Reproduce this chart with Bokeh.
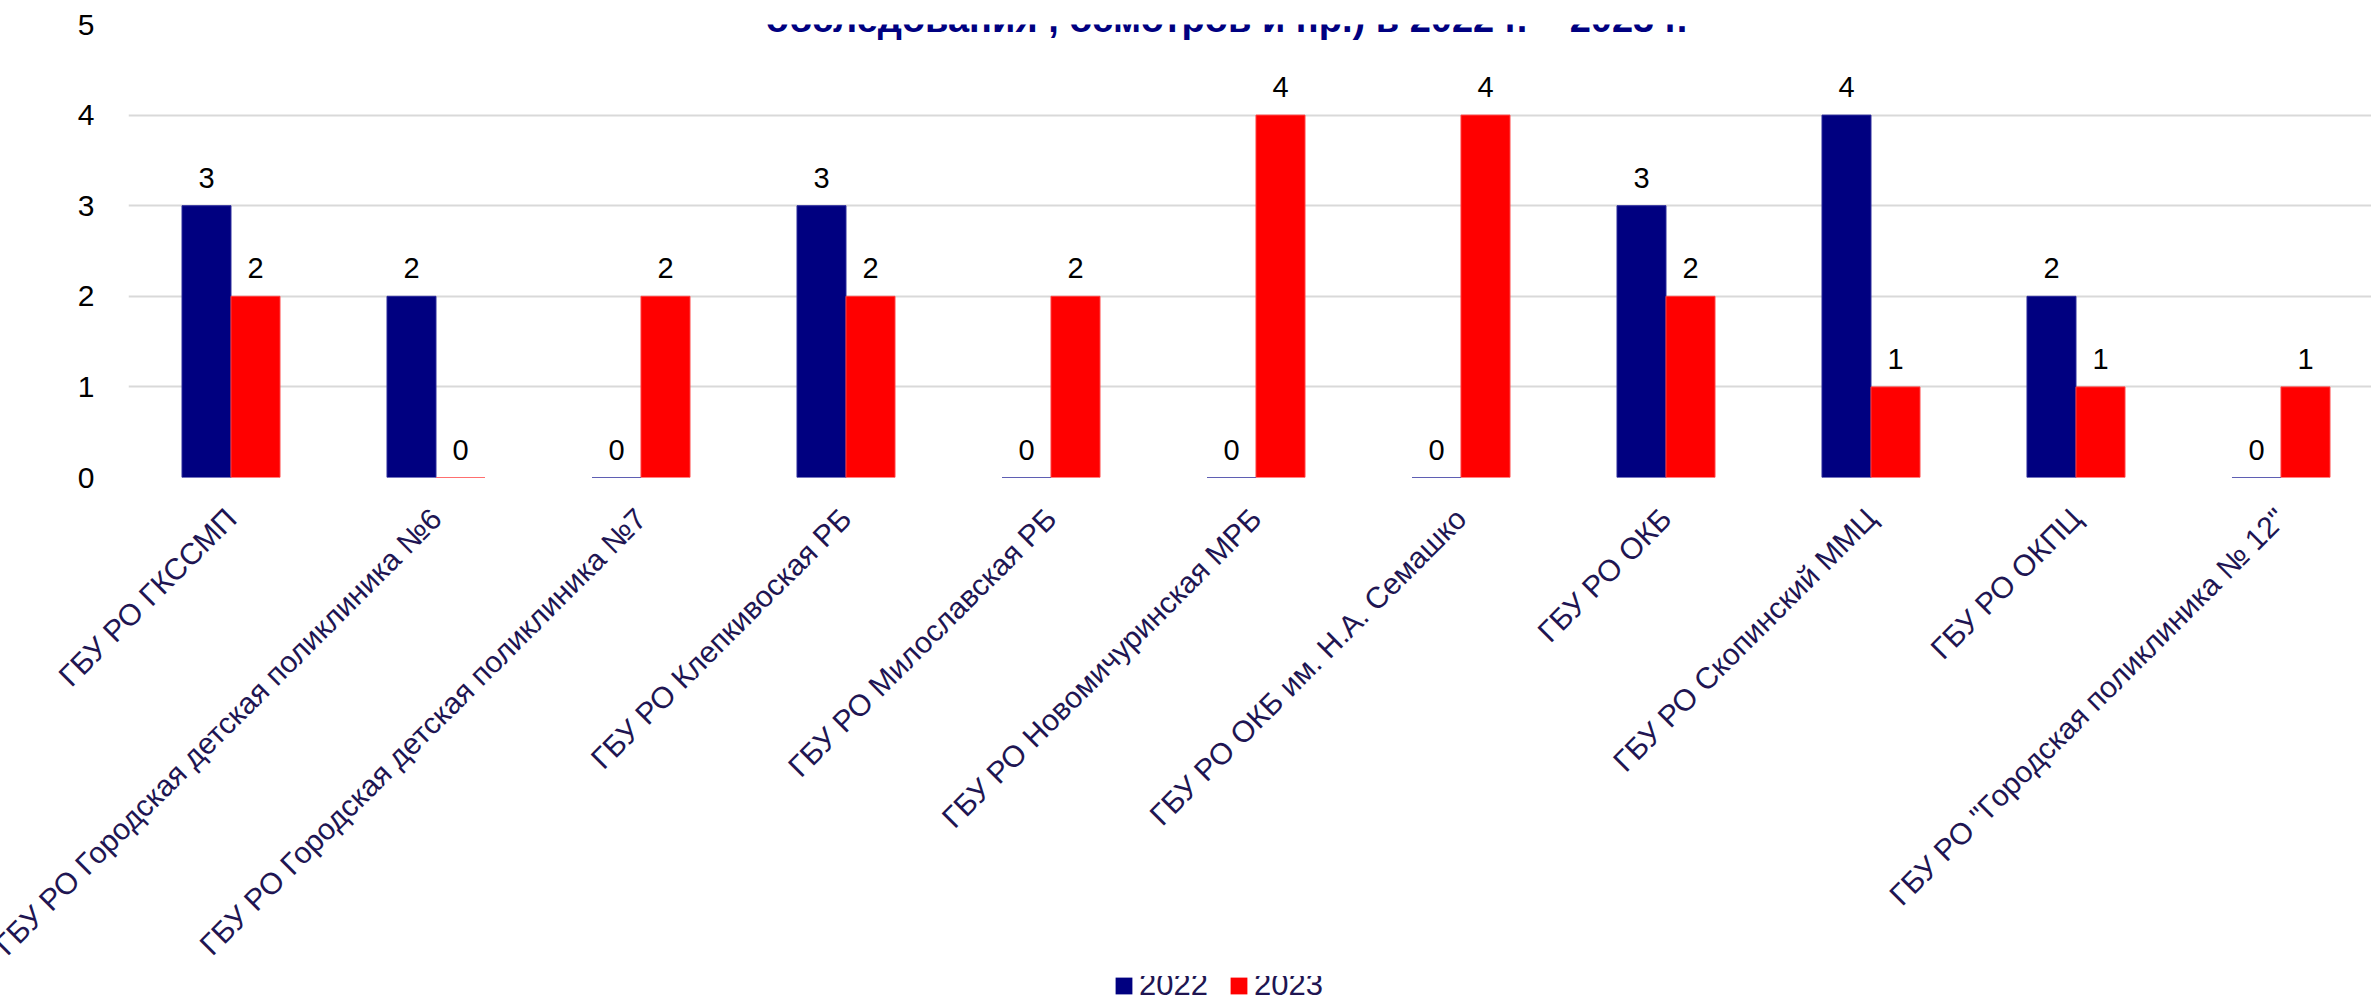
import math
from bokeh.plotting import figure
from bokeh.layouts import column
from bokeh.models import (Range1d, FixedTicker, ColumnDataSource, Legend, LegendItem, Label)
from bokeh.core.properties import value
from bokeh.transform import dodge
from bokeh.embed import file_html
from bokeh.resources import INLINE

categories = [
    "ГБУ РО ГКССМП",
    "ГБУ РО Городская детская поликлиника №6",
    "ГБУ РО Городская детская поликлиника №7",
    "ГБУ РО Клепкивоская РБ",
    "ГБУ РО Милославская РБ",
    "ГБУ РО Новомичуринская МРБ",
    "ГБУ РО ОКБ им. Н.А. Семашко",
    "ГБУ РО ОКБ",
    "ГБУ РО Скопинский ММЦ",
    "ГБУ РО ОКПЦ",
    "ГБУ РО \"Городская поликлиника № 12\"",
]
values_2022 = [3, 2, 0, 3, 0, 0, 0, 3, 4, 2, 0]
values_2023 = [2, 0, 2, 2, 2, 4, 4, 2, 1, 1, 1]
series_names = ["2022", "2023"]
y_ticks = [0, 1, 2, 3, 4, 5]
title_text = "обследования , осмотров и пр.) в 2022 г. – 2023 г."

FONT = "Liberation Sans"
NAVY = "#000080"
RED = "#FF0000"
LABEL_COLOR = "#201552"

n = len(categories)
xs = list(range(n))
src = ColumnDataSource(dict(
    x=xs,
    v22=values_2022,
    v23=values_2023,
    t22=[str(v) for v in values_2022],
    t23=[str(v) for v in values_2023],
))

W = 2371
H_MAIN = 976
H_LEG = 1001 - H_MAIN

p = figure(
    width=W, height=H_MAIN,
    x_range=Range1d(-0.5, n - 0.5 - 0.0585),
    y_range=Range1d(0, 5),
    output_backend="svg", toolbar_location=None,
    min_border_left=128, min_border_right=0,
    min_border_top=24, min_border_bottom=H_MAIN - 477,
)
p.outline_line_color = None
p.background_fill_color = "white"
p.border_fill_color = "white"

bw = 0.239
off = bw / 2
r1 = p.vbar(x=dodge("x", -off, range=p.x_range), top="v22", width=bw, source=src,
            fill_color=NAVY, line_color="#2a2a9a", line_width=1)
r2 = p.vbar(x=dodge("x", off, range=p.x_range), top="v23", width=bw, source=src,
            fill_color=RED, line_color="#ff4040", line_width=1)

for col, txt, sgn in (("v22", "t22", -1), ("v23", "t23", 1)):
    p.text(x=dodge("x", sgn * off, range=p.x_range), y=col, text=txt, source=src,
           text_align="center", text_baseline="alphabetic", y_offset=-28,
           text_font=value(FONT), text_font_size="29px", text_color="black")

# axes
p.xaxis.ticker = FixedTicker(ticks=xs)
p.xaxis.major_label_overrides = {i: c for i, c in enumerate(categories)}
p.xaxis.major_label_orientation = math.pi / 4
p.xaxis.major_label_text_font = FONT
p.xaxis.major_label_text_font_size = "30px"
p.xaxis.major_label_text_color = LABEL_COLOR
p.xaxis.major_label_standoff = 30
p.xaxis.axis_line_color = None
p.xaxis.major_tick_line_color = None
p.xaxis.minor_tick_line_color = None

p.yaxis.ticker = FixedTicker(ticks=y_ticks)
p.yaxis.major_label_text_font = FONT
p.yaxis.major_label_text_font_size = "30px"
p.yaxis.major_label_text_color = "black"
p.yaxis.major_label_standoff = 28
p.yaxis.axis_line_color = None
p.yaxis.major_tick_line_color = None
p.yaxis.minor_tick_line_color = None

p.xgrid.grid_line_color = None
p.ygrid.grid_line_color = "#D9D9D9"
p.ygrid.grid_line_width = 2

# partially visible title (last line of the original title)
p.add_layout(Label(x=1098, y=459, x_units="screen", y_units="screen", text=title_text,
                   text_font=FONT, text_font_size="38px", text_font_style="bold",
                   text_color=NAVY, text_align="center", text_baseline="alphabetic"))

# legend strip below the chart (its frame is aligned with the main frame: x 128..2371)
pl = figure(width=W, height=H_LEG, output_backend="svg", toolbar_location=None,
            x_axis_type=None, y_axis_type=None,
            x_range=Range1d(0, 1), y_range=Range1d(0, 1),
            min_border_left=0, min_border_right=0, min_border_top=0, min_border_bottom=0)
pl.outline_line_color = None
pl.xgrid.grid_line_color = None
pl.ygrid.grid_line_color = None
# zero-height swatch renderers (nothing visible in the strip) used only by the legend
swatch = ColumnDataSource(dict(x=[0.5], top=[0]))
l1 = pl.vbar(x="x", top="top", width=0.01, source=swatch, fill_color=NAVY, line_color=None)
l2 = pl.vbar(x="x", top="top", width=0.01, source=swatch, fill_color=RED, line_color=None)

legend = Legend(items=[LegendItem(label=series_names[0], renderers=[l1]),
                       LegendItem(label=series_names[1], renderers=[l2])],
                orientation="horizontal", location=(985, -2))
legend.label_text_font = FONT
legend.label_text_font_size = "31px"
legend.label_text_color = LABEL_COLOR
legend.label_height = 21
legend.glyph_width = 21
legend.glyph_height = 21
legend.label_standoff = 5
legend.spacing = 20
legend.padding = 0
legend.margin = 0
legend.border_line_alpha = 0
legend.background_fill_alpha = 0
pl.add_layout(legend, "center")

layout = column(p, pl, spacing=0)
open("out.html", "w").write(file_html(layout, INLINE))
